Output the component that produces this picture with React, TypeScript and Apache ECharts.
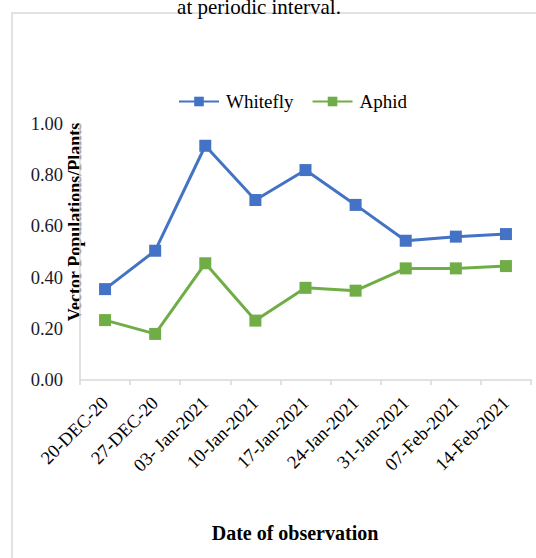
import React, { useEffect, useRef } from "react";
import * as echarts from "echarts";

const dates = [
  "20-DEC-20",
  "27-DEC-20",
  "03- Jan-2021",
  "10-Jan-2021",
  "17-Jan-2021",
  "24-Jan-2021",
  "31-Jan-2021",
  "07-Feb-2021",
  "14-Feb-2021",
];
const whitefly = [0.355, 0.505, 0.915, 0.703, 0.82, 0.684, 0.544, 0.56, 0.57];
const aphid = [0.234, 0.18, 0.456, 0.232, 0.36, 0.349, 0.436, 0.436, 0.445];

const SERIF = "'Liberation Serif', 'Times New Roman', serif";

export default function App() {
  const ref = useRef<HTMLDivElement>(null);

  useEffect(() => {
    if (!ref.current) return;
    const chart = echarts.init(ref.current, undefined, { renderer: "svg" });
    chart.setOption({
      animation: false,
      backgroundColor: "#ffffff",
      graphic: [
        {
          type: "rect",
          shape: { x: 12, y: 13, width: 560, height: 600 },
          style: { fill: "none", stroke: "#d9d9d9", lineWidth: 1.5 },
          silent: true,
        },
        {
          type: "text",
          x: 259,
          y: 17,
          style: {
            text: "at periodic interval.",
            font: `21px ${SERIF}`,
            fill: "#000",
            textAlign: "center",
            textVerticalAlign: "bottom",
          },
        },
        {
          type: "text",
          x: 75,
          y: 222,
          rotation: Math.PI / 2,
          style: {
            text: "Vector Populations/Plants",
            font: `bold 18px ${SERIF}`,
            fill: "#000",
            textAlign: "center",
            textVerticalAlign: "middle",
          },
        },
        {
          type: "text",
          x: 295,
          y: 533,
          style: {
            text: "Date of observation",
            font: `bold 20px ${SERIF}`,
            fill: "#000",
            textAlign: "center",
            textVerticalAlign: "middle",
          },
        },
      ],
      legend: {
        left: 173,
        top: 87,
        itemWidth: 40,
        itemHeight: 12,
        itemGap: 18,
        textStyle: { fontFamily: SERIF, fontSize: 19, color: "#000", padding: [0, 0, 0, 2] },
        data: ["Whitefly", "Aphid"],
      },
      grid: { left: 80, right: 5, top: 124, bottom: 178, containLabel: false },
      xAxis: {
        type: "category",
        data: dates,
        boundaryGap: true,
        axisLine: { show: true, lineStyle: { color: "#d9d9d9", width: 1.5 } },
        axisTick: { show: true, length: 5, lineStyle: { color: "#d9d9d9", width: 1.5 } },
        axisLabel: {
          rotate: 45,
          interval: 0,
          margin: 20,
          fontFamily: SERIF,
          fontSize: 18.5,
          color: "#000",
        },
      },
      yAxis: {
        type: "value",
        min: 0,
        max: 1,
        interval: 0.2,
        axisLine: { show: true, lineStyle: { color: "#d9d9d9", width: 1.5 } },
        axisTick: { show: false },
        splitLine: { show: false },
        axisLabel: {
          margin: 17,
          fontFamily: SERIF,
          fontSize: 18.5,
          color: "#1a1a2e",
          formatter: (v: number) => v.toFixed(2),
        },
      },
      series: [
        {
          name: "Whitefly",
          type: "line",
          data: whitefly,
          symbol: "rect",
          symbolSize: 12,
          lineStyle: { color: "#4472C4", width: 3 },
          itemStyle: { color: "#4472C4" },
        },
        {
          name: "Aphid",
          type: "line",
          data: aphid,
          symbol: "rect",
          symbolSize: 12,
          lineStyle: { color: "#70AD47", width: 3 },
          itemStyle: { color: "#70AD47" },
        },
      ],
    });
    return () => chart.dispose();
  }, []);

  return (
    <div
      ref={ref}
      style={{ position: "fixed", left: 0, top: 0, width: 536, height: 558 }}
    />
  );
}
